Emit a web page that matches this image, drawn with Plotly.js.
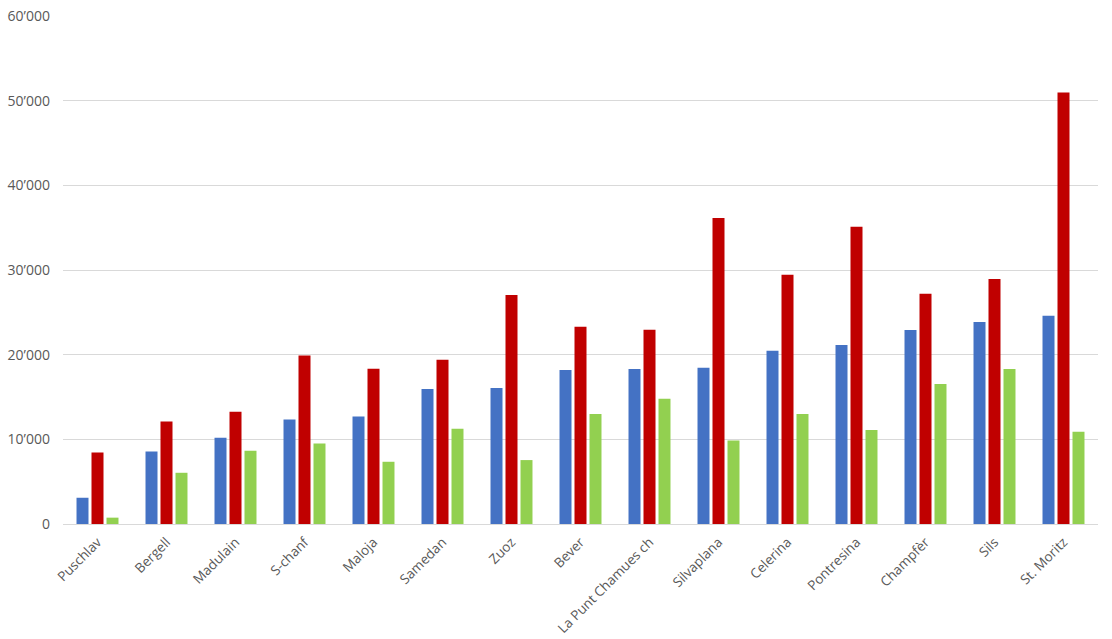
<!DOCTYPE html>
<html>
<head>
<meta charset="utf-8">
<script src="https://cdn.plot.ly/plotly-3.0.1.min.js"></script>
<style>html,body{margin:0;padding:0;background:#fff;}#chart{width:1112px;height:639px;}</style>
</head>
<body>
<div id="chart"></div>
<script>
const categories = ["Puschlav","Bergell","Madulain","S-chanf","Maloja","Samedan","Zuoz","Bever","La Punt Chamues ch","Silvaplana","Celerina","Pontresina","Champfèr","Sils","St. Moritz"];
const seriesBlue  = [3100, 8550, 10200, 12350, 12700, 15950, 16050, 18200, 18300, 18450, 20450, 21150, 22900, 23850, 24600];
const seriesRed   = [8450, 12100, 13250, 19900, 18350, 19400, 27050, 23300, 22950, 36150, 29450, 35100, 27200, 28950, 50950];
const seriesGreen = [750, 6050, 8650, 9500, 7350, 11250, 7550, 13000, 14800, 9850, 13000, 11100, 16550, 18300, 10900];
const yTickVals = [0, 10000, 20000, 30000, 40000, 50000, 60000];
const yTickText = ["0", "10’000", "20’000", "30’000", "40’000", "50’000", "60’000"];

const mk = (y, color) => ({type: "bar", x: categories, y: y, marker: {color: color}, hoverinfo: "x+y"});
const data = [mk(seriesBlue, "#4472C4"), mk(seriesRed, "#C00000"), mk(seriesGreen, "#92D050")];

const layout = {
  width: 1112, height: 639,
  margin: {l: 63, r: 14, t: 16, b: 115},
  paper_bgcolor: "#ffffff", plot_bgcolor: "#ffffff",
  showlegend: false,
  barmode: "group", bargap: 0.348, bargroupgap: 0.2,
  font: {family: "Open Sans, Liberation Sans, sans-serif", size: 13, color: "#595959"},
  xaxis: {
    type: "category", tickangle: -45, showgrid: false,
    showline: true, linecolor: "#d9d9d9", linewidth: 1,
    ticks: "", ticklabelstandoff: 4,
    tickfont: {size: 13.5, color: "#595959"}, automargin: false
  },
  yaxis: {
    range: [0, 60000], tickvals: yTickVals, ticktext: yTickText,
    showgrid: true, gridcolor: "#d9d9d9", gridwidth: 1,
    zeroline: false, showline: false, ticks: "",
    ticklabelstandoff: 12,
    tickfont: {size: 14, color: "#595959"}, automargin: false
  }
};
Plotly.newPlot("chart", data, layout, {displayModeBar: false, staticPlot: true});
</script>
</body>
</html>
